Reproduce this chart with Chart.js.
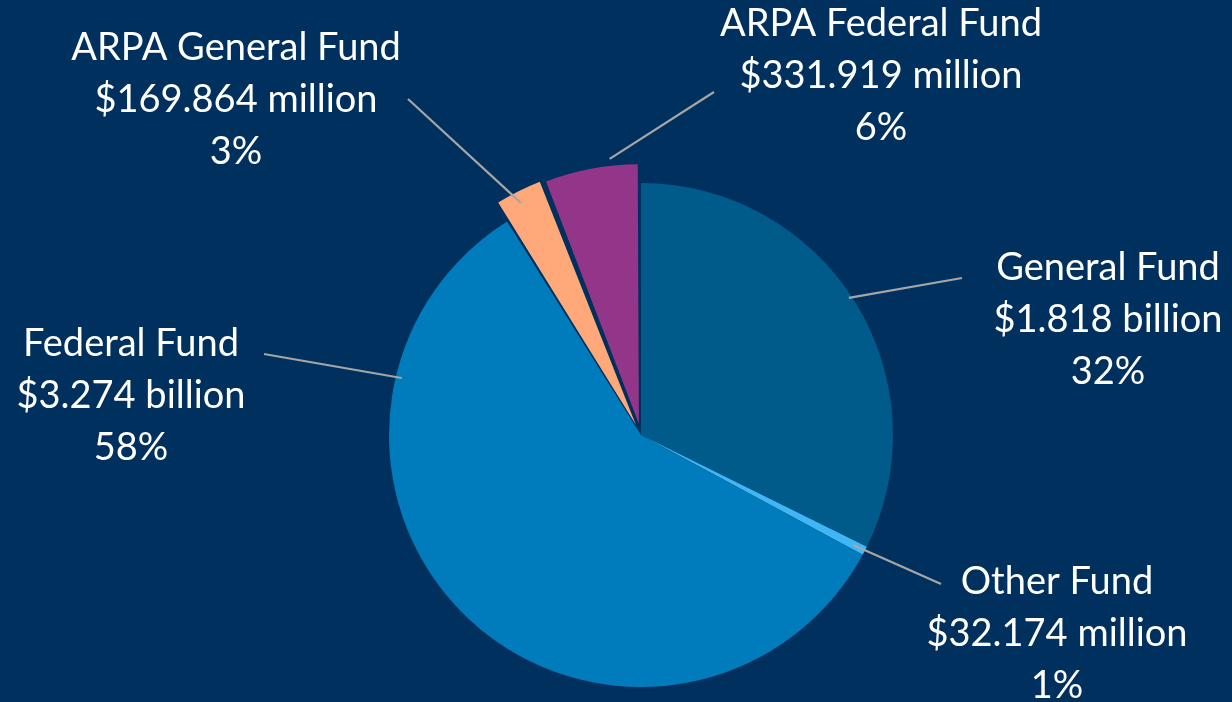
<!DOCTYPE html>
<html>
<head>
<meta charset="utf-8">
<script src="https://cdn.jsdelivr.net/npm/chart.js@4/dist/chart.umd.min.js"></script>
<style>
  html, body { margin: 0; padding: 0; background: #00305e; }
  #wrap { width: 1232px; height: 702px; position: relative; }
</style>
</head>
<body>
<div id="wrap"><canvas id="mycanvas"></canvas></div>
<script>
// fund names, amounts (millions of dollars) and the printed labels
var funds = ['General Fund', 'Other Fund', 'Federal Fund', 'ARPA General Fund', 'ARPA Federal Fund'];
var amounts = [1818, 32.174, 3274, 169.864, 331.919];
var amountText = ['$1.818 billion', '$32.174 million', '$3.274 billion', '$169.864 million', '$331.919 million'];
var pctText = ['32%', '1%', '58%', '3%', '6%'];

var colors = ['#005b8b', '#41b6f7', '#007bbb', '#ffa87a', '#93368a'];
var explode = [0, 0, 0, 46, 46];

// where each label sits and where its leader line touches the slice
// (label centre x, first line y, anchor angle from 12 o'clock, anchor radius, line outer end)
var labelPos = [
  { x: 1108, y: 268, ang: 56.6, r: 249, lx: 962, ly: 278 },
  { x: 1057, y: 582, ang: 117.4, r: 239, lx: 941, ly: 584 },
  { x: 131, y: 344, ang: 283.4, r: 246, lx: 264, ly: 354 },
  { x: 236, y: 48, ang: 332.6, r: 238, lx: 408, ly: 99 },
  { x: 881, y: 24, ang: 353.9, r: 255, lx: 714, ly: 92 }
];

var labelPlugin = {
  id: 'fundLabels',
  afterDatasetsDraw: function(chart) {
    var ctx = chart.ctx;
    var meta = chart.getDatasetMeta(0);
    ctx.save();
    meta.data.forEach(function(arc, i) {
      var p = labelPos[i];
      var half = (arc.startAngle + arc.endAngle) / 2;
      var off = (arc.options.offset || 0) / 2;
      var cx = arc.x + Math.cos(half) * off;
      var cy = arc.y + Math.sin(half) * off;
      var t = (p.ang - 90) * Math.PI / 180;
      var ax = cx + Math.cos(t) * p.r;
      var ay = cy + Math.sin(t) * p.r;

      ctx.strokeStyle = '#a6a6a6';
      ctx.lineWidth = 2.2;
      ctx.beginPath();
      ctx.moveTo(ax, ay);
      ctx.lineTo(p.lx, p.ly);
      ctx.stroke();

      ctx.fillStyle = '#ffffff';
      ctx.font = '38px Lato';
      ctx.textAlign = 'center';
      ctx.textBaseline = 'middle';
      ctx.fillText(funds[i], p.x, p.y);
      ctx.fillText(amountText[i], p.x, p.y + 52);
      ctx.fillText(pctText[i], p.x, p.y + 104);
    });
    ctx.restore();
  }
};

var ctx = document.getElementById('mycanvas');

var pieChart = new Chart(ctx, {
  type: 'pie',
  data: {
    labels: funds,
    datasets: [{
      data: amounts,
      backgroundColor: colors,
      borderWidth: 0,
      offset: explode
    }]
  },
  options: {
    responsive: true,
    maintainAspectRatio: false,
    animation: false,
    radius: 252,
    layout: { padding: { left: 50, right: 0, top: 168, bottom: 0 } },
    plugins: {
      legend: { display: false },
      tooltip: { enabled: false }
    }
  },
  plugins: [labelPlugin]
});
</script>
</body>
</html>
